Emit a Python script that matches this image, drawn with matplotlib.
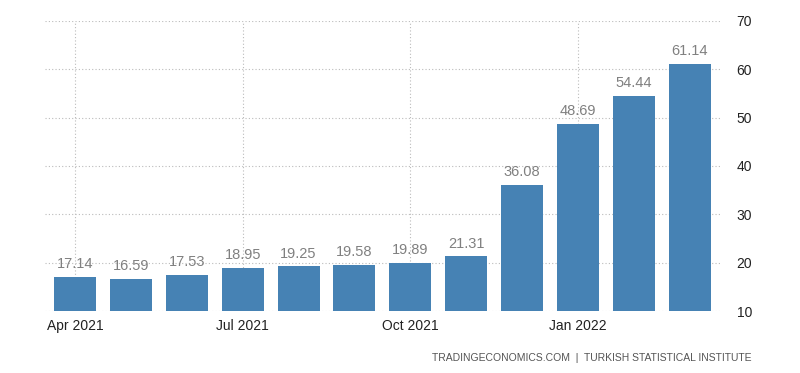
import matplotlib

matplotlib.use("Agg")
import matplotlib.pyplot as plt  # noqa: E402

months = ["Apr 2021", "May 2021", "Jun 2021", "Jul 2021", "Aug 2021", "Sep 2021",
          "Oct 2021", "Nov 2021", "Dec 2021", "Jan 2022", "Feb 2022", "Mar 2022"]
values = [17.14, 16.59, 17.53, 18.95, 19.25, 19.58, 19.89, 21.31, 36.08, 48.69, 54.44, 61.14]
tick_months = ["Apr 2021", "Jul 2021", "Oct 2021", "Jan 2022"]
y_ticks = [10, 20, 30, 40, 50, 60, 70]

plt.rcParams["font.family"] = ["Liberation Sans", "DejaVu Sans"]

fig = plt.figure(figsize=(8.0, 3.73), dpi=100)
ax = fig.add_axes((0.056, 0.166, 0.844, 0.778))

positions = list(range(len(months)))
ax.bar(positions, [v - 10 for v in values], bottom=10, width=0.75, color="#4682b4", zorder=3)
for x, v in zip(positions, values):
    ax.text(x, v + 1.2, f"{v:.2f}", ha="center", va="bottom", fontsize=10.5, color="#808080", zorder=4)

ax.set_xlim(-0.54, 11.54)
ax.set_ylim(10, 70)
ax.set_xticks([months.index(m) for m in tick_months])
ax.set_xticklabels(tick_months)
ax.set_yticks(y_ticks)
ax.yaxis.tick_right()
ax.tick_params(axis="both", length=0, labelsize=10, colors="#222222")
ax.tick_params(axis="y", pad=12)
ax.tick_params(axis="x", pad=6)
ax.grid(True, linestyle=(0, (1, 2)), color="#bbbbbb", linewidth=0.8, zorder=0)
for spine in ax.spines.values():
    spine.set_visible(False)

fig.text(0.94, 0.04, "TRADINGECONOMICS.COM  |  TURKISH STATISTICAL INSTITUTE",
         ha="right", va="center", fontsize=7.5, color="#555555")

fig.savefig("out.png", dpi=100)
